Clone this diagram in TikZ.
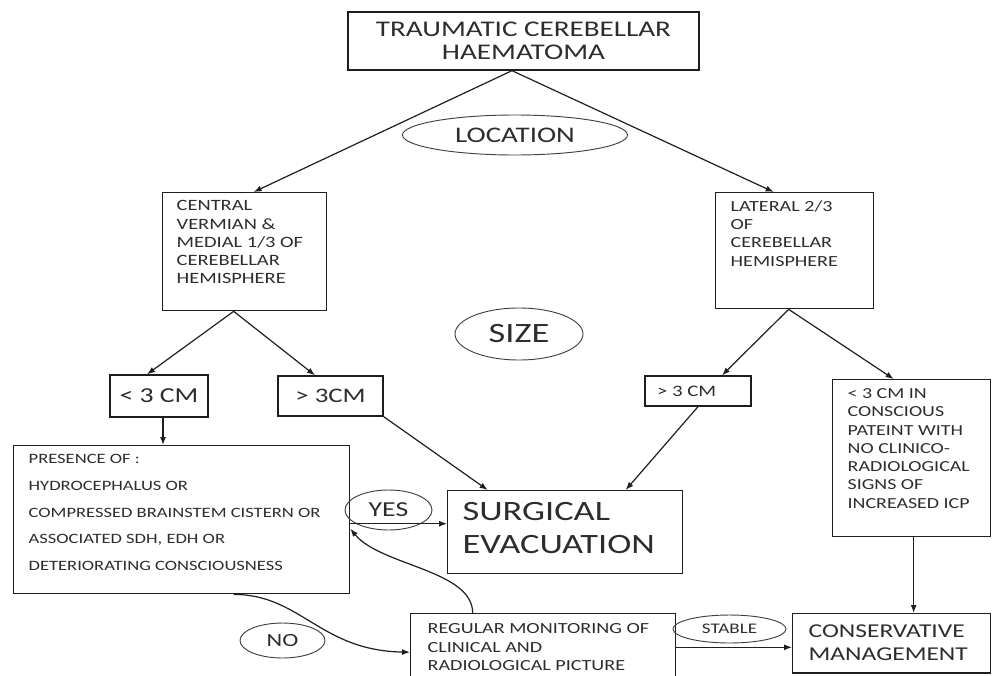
\documentclass[tikz,border=0pt]{standalone}
\usepackage{fontspec}
\setmainfont{Carlito}[FakeStretch=1.3]
\usetikzlibrary{calc,arrows.meta,shapes.geometric}
\definecolor{ink}{RGB}{45,45,45}
\definecolor{edge}{RGB}{30,30,30}
\newcommand{\fsz}[2]{\fontsize{#1}{#2}\selectfont}
\begin{document}
\begin{tikzpicture}[x=0.75pt,y=-0.75pt,
  boxst/.style={draw=edge,line width=1pt,text=ink,inner sep=0pt},
  ovalst/.style={ellipse,draw=edge!85,line width=0.7pt,text=ink,inner sep=0pt},
  arr/.style={draw=edge,line width=0.9pt,-{Latex[length=6pt,width=4.5pt]}}]
\useasboundingbox (0,0) rectangle (992,675);
% boxes
\node[boxst,minimum width=263.25pt,minimum height=43.5pt,align=center,font=\fsz{16.8}{17.25}] (top) at (523.5,41) {TRAUMATIC CEREBELLAR\\HAEMATOMA};
\node[ovalst,minimum width=168.75pt,minimum height=30pt,font=\fsz{16.7}{20}] (loc) at (515,135) {LOCATION};
\node[boxst,anchor=north west,inner ysep=6pt] (L) at (162,192) {\hspace*{10.5pt}\parbox[t][76.5pt][t]{112.5pt}{\raggedright\fsz{11.8}{13.7}CENTRAL\\VERMIAN \&\\MEDIAL 1/3 OF\\CEREBELLAR\\HEMISPHERE}};
\node[boxst,anchor=north west,inner ysep=6pt] (R) at (715,192) {\hspace*{11.25pt}\parbox[t][75pt][t]{107.25pt}{\raggedright\fsz{11.6}{13.7}LATERAL 2/3\\OF\\CEREBELLAR\\HEMISPHERE}};
\node[ovalst,minimum width=96pt,minimum height=39pt,font=\fsz{21}{25}] (size) at (519,334) {SIZE};
\node[boxst,minimum width=73.5pt,minimum height=31.5pt,font=\fsz{16}{19}] (lt3) at (159,396) {< 3 CM};
\node[boxst,minimum width=78.75pt,minimum height=30pt,font=\fsz{15.5}{19}] (gt3) at (330.5,396) {> 3CM};
\node[boxst,minimum height=22.5pt,font=\fsz{12}{14}] (rgt3) at (698,391) {\makebox[79.5pt][l]{\hspace*{9pt}> 3 CM}};
\node[boxst,anchor=north west,inner ysep=6.75pt] (icp) at (832,379) {\hspace*{11.25pt}\parbox[t][104.25pt][t]{107.25pt}{\raggedright\fsz{11.5}{13.7}< 3 CM IN\\CONSCIOUS\\PATEINT WITH\\NO CLINICO-\\RADIOLOGICAL\\SIGNS OF\\INCREASED ICP}};
\node[boxst,anchor=north west,inner ysep=6.4pt] (pres) at (13,445) {\hspace*{11.25pt}\parbox[t][98.25pt][t]{240.75pt}{\raggedright\fsz{10.7}{20.1}PRESENCE OF :\\HYDROCEPHALUS OR\\COMPRESSED BRAINSTEM CISTERN OR\\ASSOCIATED SDH, EDH OR\\DETERIORATING CONSCIOUSNESS}};
\node[boxst,anchor=north west,inner ysep=8.6pt] (surg) at (447,490) {\hspace*{11.25pt}\parbox[t][45pt][t]{165pt}{\raggedright\fsz{21}{24.75}SURGICAL\\EVACUATION}};
\node[boxst,anchor=north west,inner ysep=7.5pt] (reg) at (410,613) {\hspace*{12.75pt}\parbox[t][42.75pt][t]{186pt}{\raggedright\fsz{11.6}{13.9}REGULAR MONITORING OF\\CLINICAL AND\\RADIOLOGICAL PICTURE}};
\node[boxst,anchor=north west,inner ysep=8pt] (cons) at (792,613) {\hspace*{12pt}\parbox[t][28.5pt][t]{136.5pt}{\raggedright\fsz{14.7}{17.25}CONSERVATIVE\\MANAGEMENT}};
% ovals
\node[ovalst,minimum width=65.25pt,minimum height=30pt,font=\fsz{16}{19}] (yes) at (388.5,510) {YES};
\node[ovalst,minimum width=63.75pt,minimum height=26.25pt,font=\fsz{14}{17}] (no) at (282.5,640.5) {NO};
\node[ovalst,minimum width=84.75pt,minimum height=21pt,font=\fsz{11}{13}] (stable) at (729.5,629) {STABLE};
% connectors
\draw[arr] ($(top.south)+(-11.5,0)$) -- ($(L.north)+(9,0)$);
\draw[arr] ($(top.south)+(-11.5,0)$) -- ($(R.north)+(-21,0)$);
\draw[arr] ($(L.south)+(-11,0)$) -- ($(lt3.north)+(-12,0)$);
\draw[arr] ($(L.south)+(-11,0)$) -- ($(gt3.north)+(-15.5,0)$);
\draw[arr] ($(R.south)+(-6,0)$) -- ($(rgt3.north)+(24,0)$);
\draw[arr] ($(R.south)+(-6,0)$) -- ($(icp.north)+(-18,0)$);
\coordinate (a1) at ($(lt3.south)+(4,0)$);
\draw[arr] (a1) -- (a1 |- pres.north);
\draw[arr] (gt3.south east) -- ($(surg.north)+(-77.5,0)$);
\draw[arr] (rgt3.south) -- ($(surg.north)+(60.5,0)$);
\coordinate (y1) at ($(pres.east)+(0,4)$);
\draw[arr] (y1) -- (y1 -| surg.west);
\draw[arr] ($(reg.north)+(-70.5,0)$) .. controls +(0,-43) and +(30,37) .. ($(pres.east)+(0,9)$);
\draw[arr] ($(pres.south)+(52,0)$) .. controls +(67,0) and +(-90,-1.5) .. (reg.west);
\coordinate (s1) at ($(cons.west)+(0,4)$);
\draw[arr] (s1 -| reg.east) -- (s1);
\coordinate (i1) at ($(icp.south)+(2,0)$);
\draw[arr] (i1) -- (i1 |- cons.north);
\end{tikzpicture}
\end{document}
